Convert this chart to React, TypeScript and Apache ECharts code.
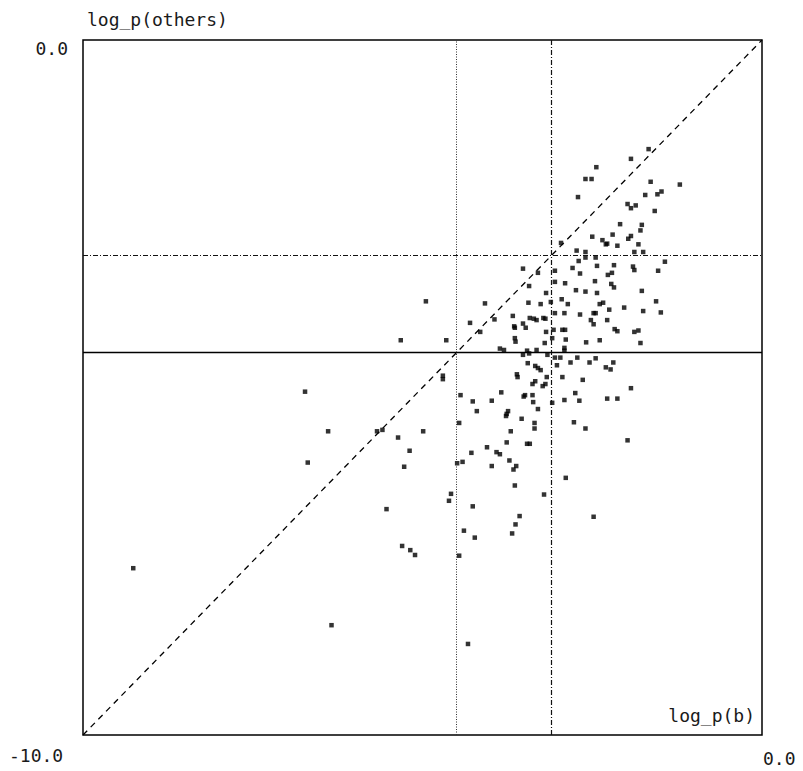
import React, { useEffect, useRef } from "react";
import * as echarts from "echarts";

// log_p(b) values (x)
const logPB: number[] = [
  -1.67, -1.93, -2.44, -2.60, -2.51, -1.64, -1.21, -1.48, -1.54, -1.72,
  -2.71, -1.98, -1.93, -1.86, -1.58, -2.09, -1.77, -1.79, -2.20, -2.50,
  -1.93, -1.97, -2.35, -2.28, -2.30, -2.13, -1.82, -2.96, -2.73, -2.60,
  -1.88, -1.75, -2.60, -2.45, -2.70, -1.43, -2.43, -2.18, -1.90, -1.88,
  -3.52, -3.30, -3.05, -2.79, -2.68, -2.21, -2.27, -1.53, -3.43, -3.05,
  -2.90, -2.46, -2.22, -2.18, -2.74, -2.60, -2.43, -1.77, -3.18, -4.08,
  -3.44, -3.26, -3.11, -2.95, -2.86, -2.34, -2.39, -1.56, -2.03, -1.75,
  -1.49, -2.25, -3.05, -2.91, -2.68, -2.48, -2.45, -3.67, -3.94, -3.42,
  -3.36, -3.32, -3.22, -3.19, -2.52, -2.28, -4.30, -3.52, -3.65, -3.64,
  -3.48, -2.48, -2.17, -2.13, -1.88, -1.82, -4.15, -3.18, -3.07, -2.94,
  -2.90, -3.64, -3.63, -3.20, -3.09, -2.89, -2.59, -2.39, -1.79, -4.65,
  -3.86, -3.80, -3.46, -3.43, -3.32, -2.91, -2.91, -4.95, -5.32,
  -3.52, -3.16, -3.05, -2.97, -2.72, -2.45, -2.54, -2.30, -2.23, -2.19,
  -3.45, -3.34, -3.30, -3.26, -3.02, -2.82,
  -4.70, -4.70, -3.61, -3.60, -3.17, -2.94, -2.64, -3.34, -3.38, -3.19,
  -3.23, -1.93, -4.44, -3.84, -3.49, -3.51, -3.38, -2.75, -2.91, -2.69,
  -2.28, -2.13, -4.26, -3.98, -3.37, -3.09, -3.30, -4.20, -3.74, -3.76,
  -3.77, -3.54, -4.46, -3.35, -2.77, -3.35, -2.60, -3.70, -3.76, -3.46,
  -3.42, -1.98, -4.05, -4.28, -3.91, -3.86, -4.49, -4.41, -3.72, -3.98,
  -3.62, -3.66, -2.89, -3.64, -4.58, -4.61, -3.21, -4.26, -3.57, -2.48,
  -3.63, -4.39, -4.23, -3.68,
  -6.73, -6.39, -5.67, -5.59, -4.99, -5.36, -5.19, -6.69, -5.27,
  -5.53, -5.30, -5.18, -5.11, -4.46, -9.26, -6.34, -4.33,
];

// log_p(others) values (y)
const logPOthers: number[] = [
  -1.57, -1.71, -1.83, -2.00, -2.00, -2.04, -2.08, -2.18, -2.22, -2.23,
  -2.26, -2.36, -2.42, -2.38, -2.46, -2.65, -2.66, -2.74, -2.80, -2.83,
  -2.82, -2.86, -2.88, -2.93, -2.94, -2.96, -2.94, -2.92, -3.03, -3.05,
  -3.05, -3.05, -3.13, -3.13, -3.18, -3.19, -3.25, -3.24, -3.26, -3.31,
  -3.29, -3.35, -3.32, -3.28, -3.36, -3.35, -3.38, -3.32, -3.54, -3.48,
  -3.50, -3.47, -3.51, -3.56, -3.60, -3.62, -3.64, -3.61, -3.64, -3.79,
  -3.78, -3.80, -3.77, -3.73, -3.80, -3.78, -3.80, -3.76, -3.85, -3.90,
  -3.92, -3.88, -3.93, -3.93, -3.95, -3.93, -3.93, -3.97, -4.02, -4.00,
  -4.01, -4.03, -4.00, -4.01, -4.03, -4.03, -4.07, -4.08, -4.12, -4.14,
  -4.14, -4.09, -4.16, -4.19, -4.20, -4.18, -4.20, -4.20, -4.17, -4.17,
  -4.17, -4.29, -4.34, -4.36, -4.29, -4.31, -4.35, -4.32, -4.36, -4.32,
  -4.44, -4.46, -4.47, -4.51, -4.46, -4.43, -4.47, -3.76, -4.32,
  -4.53, -4.53, -4.57, -4.57, -4.57, -4.58, -4.64, -4.71, -4.74, -4.64,
  -4.65, -4.69, -4.72, -4.75, -4.68, -4.64,
  -4.83, -4.88, -4.81, -4.85, -4.85, -4.85, -4.89, -4.91, -4.95, -4.95,
  -4.98, -5.01, -5.11, -5.07, -5.11, -5.13, -5.11, -5.08, -5.18, -5.19,
  -5.16, -5.16, -5.20, -5.19, -5.21, -5.22, -5.31, -5.34, -5.34, -5.38,
  -5.41, -5.45, -5.51, -5.51, -5.50, -5.59, -5.59, -5.63, -5.79, -5.81,
  -5.81, -5.76, -5.86, -5.94, -5.93, -5.96, -6.09, -6.07, -6.05, -6.13,
  -6.13, -6.18, -6.30, -6.41, -6.53, -6.63, -6.54, -6.71, -6.85, -6.86,
  -6.97, -7.06, -7.16, -7.10,
  -5.06, -5.63, -5.63, -5.61, -5.63, -5.72, -5.91, -6.08, -6.14,
  -6.75, -7.28, -7.34, -7.41, -7.42, -7.60, -8.42, -8.69,
];

// reference thresholds
const refB: number[] = [-4.5, -3.1];
const refOthers: number[] = [-4.5, -3.1];

// axis range and diagonal
const axisRange: number[] = [-10, 0];
const diagonal: number[][] = [[-10, -10], [0, 0]];

// texts
const xTickLabels: string[] = ["-10.0", "0.0"];
const yTickLabels: string[] = ["0.0"];
const xAxisTitle = "log_p(b)";
const yAxisTitle = "log_p(others)";

const FONT = "DejaVu Sans Mono";

export default function App() {
  const ref = useRef<HTMLDivElement>(null);

  useEffect(() => {
    if (!ref.current) return;
    const chart = echarts.init(ref.current, null, { renderer: "svg" });
    const points = logPB.map((x, i) => [x, logPOthers[i]]);
    const textStyle = (text: string) => ({
      text,
      fill: "#1a1a1a",
      font: `18px "${FONT}"`,
    });

    chart.setOption({
      animation: false,
      backgroundColor: "#fff",
      grid: {
        left: 83,
        top: 40,
        width: 679,
        height: 695,
        show: true,
        borderColor: "#000",
        borderWidth: 1.5,
        backgroundColor: "transparent",
      },
      xAxis: {
        type: "value",
        min: axisRange[0],
        max: axisRange[1],
        axisLine: { show: false },
        axisTick: { show: false },
        axisLabel: { show: false },
        splitLine: { show: false },
      },
      yAxis: {
        type: "value",
        min: axisRange[0],
        max: axisRange[1],
        axisLine: { show: false },
        axisTick: { show: false },
        axisLabel: { show: false },
        splitLine: { show: false },
      },
      series: [
        {
          type: "line",
          data: diagonal,
          symbol: "none",
          lineStyle: { color: "#000", width: 1.3, type: [6, 5] },
          z: 2,
          markLine: {
            silent: true,
            symbol: "none",
            label: { show: false },
            data: [
              { xAxis: refB[0], lineStyle: { color: "#333", width: 1, type: [1, 1.5] } },
              { xAxis: refB[1], lineStyle: { color: "#111", width: 1.2, type: [5, 2, 1, 2] } },
              { yAxis: refOthers[0], lineStyle: { color: "#000", width: 1.3, type: "solid" } },
              { yAxis: refOthers[1], lineStyle: { color: "#111", width: 1.2, type: [5, 2, 1, 2] } },
            ],
          },
        },
        {
          type: "scatter",
          data: points,
          symbol: "rect",
          symbolSize: 4.5,
          itemStyle: { color: "#000" },
          z: 3,
        },
      ],
      graphic: [
        { type: "text", left: 87, top: 10, style: textStyle(yAxisTitle) },
        { type: "text", right: 803 - 68, top: 39, style: textStyle(yTickLabels[0]) },
        { type: "text", left: 9, top: 746, style: textStyle(xTickLabels[0]) },
        { type: "text", left: 763, top: 749, style: textStyle(xTickLabels[1]) },
        { type: "text", right: 803 - 755, top: 706, style: textStyle(xAxisTitle) },
      ],
    });

    return () => chart.dispose();
  }, []);

  return (
    <div
      ref={ref}
      style={{ position: "fixed", left: 0, top: 0, width: 803, height: 771, background: "#fff" }}
    />
  );
}
